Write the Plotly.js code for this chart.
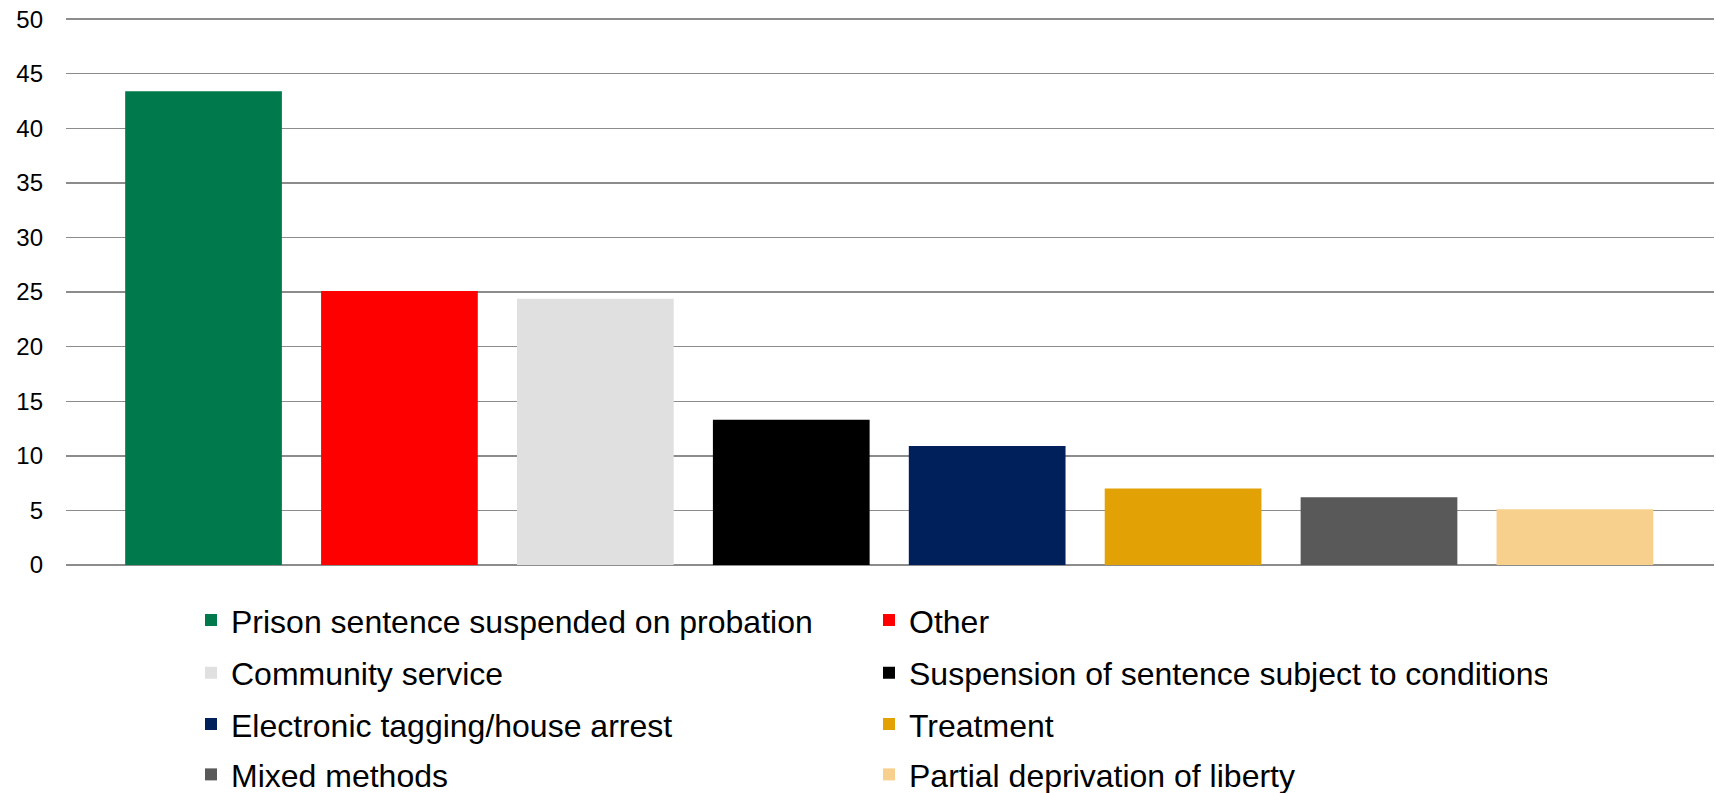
<!DOCTYPE html>
<html>
<head>
<meta charset="utf-8">
<script src="https://cdn.plot.ly/plotly-3.0.1.min.js"></script>
<style>
  html, body { margin: 0; padding: 0; background: #ffffff; }
  #chart { width: 1716px; height: 793px; }
</style>
</head>
<body>
<div id="chart"></div>
<script>
// Categories (also legend labels)
const categories = [
  "Prison sentence suspended on probation",
  "Other",
  "Community service",
  "Suspension of sentence subject to conditions",
  "Electronic tagging/house arrest",
  "Treatment",
  "Mixed methods",
  "Partial deprivation of liberty"
];
// Values
const values = [43.4, 25.1, 24.4, 13.3, 10.9, 7.0, 6.2, 5.1];
// Bar colours
const colors = ["#007A4D", "#FF0000", "#E0E0E0", "#000000", "#00205B", "#E2A206", "#595959", "#F8D08E"];
// Y-axis ticks
const yTicks = [0, 5, 10, 15, 20, 25, 30, 35, 40, 45, 50];

// Legend rows: two entries per row, each row is its own legend
const legendIds = ["legend", "legend2", "legend3", "legend4"];
const legendRowTops = [0.2525, 0.1861, 0.1213, 0.0579]; // container fractions

const traces = categories.map((c, i) => ({
  type: "bar",
  name: c,
  x: [c],
  y: [values[i]],
  width: 0.8,
  marker: { color: colors[i], line: { width: 0 } },
  legend: legendIds[Math.floor(i / 2)],
  hoverinfo: "x+y"
}));

const legendFont = { size: 32, color: "#000000", family: "Liberation Sans, Arial, sans-serif" };

const layout = {
  width: 1716,
  height: 793,
  margin: { l: 66, r: 2, t: 17.3, b: 227.5, pad: 0, autoexpand: false },
  paper_bgcolor: "#ffffff",
  plot_bgcolor: "#ffffff",
  barmode: "overlay",
  font: { family: "Liberation Sans, Arial, sans-serif", color: "#000000" },
  xaxis: {
    type: "category",
    categoryorder: "array",
    categoryarray: categories,
    range: [-0.702, 7.71],
    showticklabels: false,
    showgrid: false,
    zeroline: false,
    showline: false,
    ticks: "",
    fixedrange: true
  },
  yaxis: {
    range: [0, 50.2],
    tickvals: yTicks,
    ticktext: yTicks.map(String),
    showgrid: true,
    gridcolor: "#8c8c8c",
    gridwidth: 1.4,
    zeroline: true,
    zerolinecolor: "#8c8c8c",
    zerolinewidth: 1.4,
    showline: false,
    ticks: "",
    ticklabelstandoff: 22,
    tickfont: { size: 24, color: "#000000", family: "Liberation Sans, Arial, sans-serif" },
    fixedrange: true
  },
  showlegend: true
};

legendIds.forEach((id, r) => {
  layout[id] = {
    orientation: "h",
    xref: "paper",
    x: (191 - 66) / 1648,
    xanchor: "left",
    yref: "container",
    y: legendRowTops[r],
    yanchor: "top",
    entrywidth: 633,
    entrywidthmode: "pixels",
    traceorder: "normal",
    font: legendFont,
    bgcolor: "rgba(0,0,0,0)",
    borderwidth: 0
  };
});

Plotly.newPlot("chart", traces, layout, { displayModeBar: false, staticPlot: true });
</script>
</body>
</html>
